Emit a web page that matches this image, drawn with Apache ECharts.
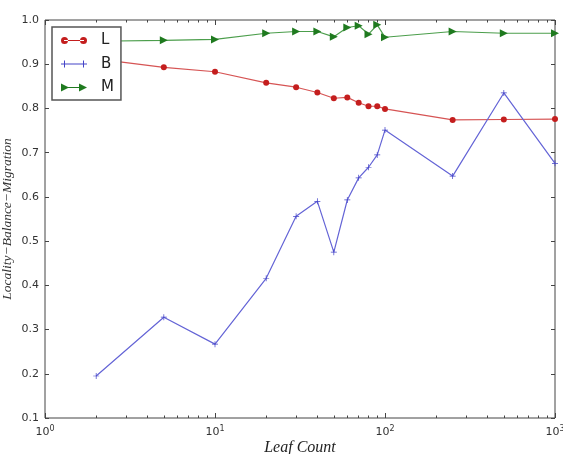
<!DOCTYPE html>
<html>
<head>
<meta charset="utf-8">
<script src="https://cdn.jsdelivr.net/npm/echarts@6/dist/echarts.min.js"></script>
<style>
  html, body { margin: 0; padding: 0; background: #fff; }
  #chart { width: 563px; height: 454px; }
</style>
</head>
<body>
<div id="chart"></div>
<script>
const leafCounts = [2, 5, 10, 20, 30, 40, 50, 60, 70, 80, 90, 100, 250, 500, 1000];
const localityVals = [0.912, 0.893, 0.883, 0.858, 0.848, 0.836, 0.823, 0.825, 0.813, 0.805, 0.805, 0.799, 0.774, 0.775, 0.776];
const balanceVals = [0.195, 0.328, 0.267, 0.416, 0.556, 0.590, 0.475, 0.593, 0.643, 0.667, 0.695, 0.751, 0.647, 0.835, 0.676];
const migrationVals = [0.952, 0.954, 0.956, 0.970, 0.974, 0.974, 0.962, 0.983, 0.987, 0.968, 0.989, 0.961, 0.974, 0.970, 0.970];
const majorTicks = [1, 10, 100, 1000];
const minorTicks = [2, 3, 4, 5, 6, 7, 8, 9, 20, 30, 40, 50, 60, 70, 80, 90, 200, 300, 400, 500, 600, 700, 800, 900];

const pair = (vals) => leafCounts.map((x, i) => [x, vals[i]]);

const plusPath = 'path://M4.4,0H5.6V4.4H10V5.6H5.6V10H4.4V5.6H0V4.4H4.4Z';
const triPath = 'path://M0,0L10,5L0,10Z';

// legend icons: line with a marker at each end, like the original legend
const iconL = 'path://M0,4a3.5,3.5 0 1,0 7,0a3.5,3.5 0 1,0 -7,0ZM19,4a3.5,3.5 0 1,0 7,0a3.5,3.5 0 1,0 -7,0ZM3,3.5H23V4.5H3Z';
const iconB = 'path://M0,3.5H7V4.5H0ZM3,0.5H4V7.5H3ZM19,3.5H26V4.5H19ZM22,0.5H23V7.5H22ZM3,3.5H23V4.5H3Z';
const iconM = 'path://M0,0L8,4L0,8ZM18,0L26,4L18,8ZM3,3.5H23V4.5H3Z';

const axisColor = '#444';
const labelFont = { color: '#333', fontSize: 11, fontFamily: 'DejaVu Sans' };

const hiddenX = (pos, ticks, len) => ({
  type: 'log', logBase: 10, min: 1, max: 1000, position: pos,
  axisLine: { show: false },
  axisLabel: { show: false },
  splitLine: { show: false },
  axisTick: { show: true, inside: true, length: len, customValues: ticks,
              lineStyle: { color: axisColor, width: 1 } }
});

const chart = echarts.init(document.getElementById('chart'), null, { renderer: 'canvas' });

const opt = {
  animation: false,
  backgroundColor: '#fff',
  grid: {
    left: 45, right: 8, top: 20, bottom: 36,
    outerBoundsMode: 'none',
    containLabel: false,
    show: true, borderColor: axisColor, borderWidth: 1, backgroundColor: 'transparent'
  },
  legend: {
    orient: 'vertical',
    left: 52, top: 27,
    padding: [6, 7, 5, 9],
    itemWidth: 26, itemHeight: 10, itemGap: 8.5,
    backgroundColor: '#fff',
    borderColor: '#555', borderWidth: 1.5, borderRadius: 0,
    textStyle: { fontSize: 15, color: '#222', fontFamily: 'DejaVu Sans', padding: [0, 0, 0, 9] },
    data: [
      { name: 'L', icon: iconL },
      { name: 'B', icon: iconB },
      { name: 'M', icon: iconM }
    ]
  },
  xAxis: [
    {
      type: 'log', logBase: 10, min: 1, max: 1000, position: 'bottom',
      name: 'Leaf Count', nameLocation: 'middle', nameGap: 21.5, nameMoveOverlap: false,
      nameTextStyle: { fontFamily: 'Liberation Serif', fontStyle: 'italic', fontSize: 16, color: '#222' },
      axisLine: { show: false },
      splitLine: { show: false },
      axisTick: { show: true, inside: true, length: 5, customValues: majorTicks,
                  lineStyle: { color: axisColor } },
      axisLabel: {
        margin: 7,
        customValues: majorTicks,
        formatter: (v) => '{b|10}{s|' + Math.round(Math.log10(v)) + '}',
        rich: {
          b: { fontSize: 11, color: '#333', fontFamily: 'DejaVu Sans' },
          s: { fontSize: 8, color: '#333', fontFamily: 'DejaVu Sans', padding: [0, 0, 7, 0] }
        }
      }
    },
    hiddenX('bottom', minorTicks, 2.5),
    hiddenX('top', majorTicks, 5),
    hiddenX('top', minorTicks, 2.5)
  ],
  yAxis: [
    {
      type: 'value', min: 0.1, max: 1.0, interval: 0.1, position: 'left',
      name: 'Locality\u2212Balance\u2212Migration', nameLocation: 'middle', nameGap: 31, nameMoveOverlap: false,
      nameTextStyle: { fontFamily: 'Liberation Serif', fontStyle: 'italic', fontSize: 13.5, color: '#333' },
      axisLine: { show: false },
      splitLine: { show: false },
      axisTick: { show: true, inside: true, length: 4, lineStyle: { color: axisColor } },
      axisLabel: Object.assign({ margin: 6, formatter: (v) => v.toFixed(1) }, labelFont)
    },
    {
      type: 'value', min: 0.1, max: 1.0, interval: 0.1, position: 'right',
      axisLine: { show: false },
      splitLine: { show: false },
      axisLabel: { show: false },
      axisTick: { show: true, inside: true, length: 4, lineStyle: { color: axisColor } }
    }
  ],
  series: [
    {
      name: 'L', type: 'line', data: pair(localityVals),
      color: '#c41e1e',
      symbol: 'circle', symbolSize: 6,
      lineStyle: { color: '#d65454', width: 1.2 },
      itemStyle: { color: '#c41e1e' }
    },
    {
      name: 'B', type: 'line', data: pair(balanceVals),
      color: '#5555d0',
      symbol: plusPath, symbolSize: 6,
      lineStyle: { color: '#6464d6', width: 1.2 },
      itemStyle: { color: '#4444c8' }
    },
    {
      name: 'M', type: 'line', data: pair(migrationVals),
      color: '#1f7a1f',
      symbol: triPath, symbolSize: 8,
      lineStyle: { color: '#4c9e4c', width: 1.2 },
      itemStyle: { color: '#1f7a1f' }
    }
  ]
};

chart.setOption(opt);
</script>
</body>
</html>
